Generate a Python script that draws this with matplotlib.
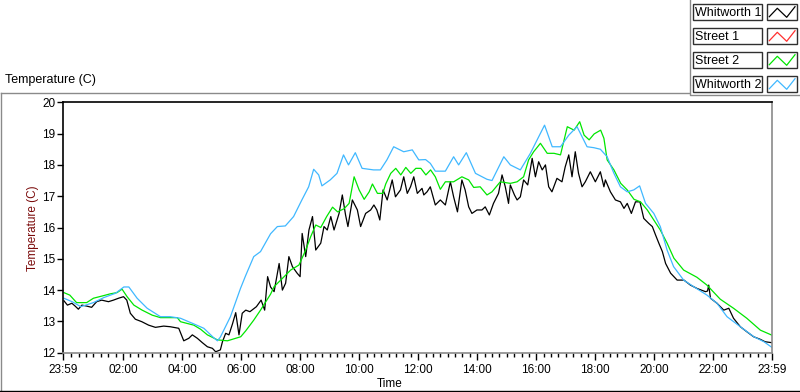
import numpy as np
import matplotlib
matplotlib.use("Agg")
import matplotlib.pyplot as plt
from matplotlib.lines import Line2D
from matplotlib.patches import Rectangle

# ---- data (hours since midnight, temperature in C) ----
whitworth1_t = [0.00, 0.12, 0.27, 0.38, 0.49, 0.61, 0.77, 0.94, 1.11, 1.28, 1.51, 1.68, 1.85, 2.02,
                2.13, 2.25, 2.42, 2.64, 2.87, 3.10, 3.38, 3.60, 3.89, 4.06, 4.23, 4.35, 4.52, 4.69,
                4.86, 5.03, 5.14, 5.30, 5.37, 5.48, 5.59, 5.71, 5.82, 5.93, 6.04, 6.16, 6.30, 6.52,
                6.68, 6.80, 6.90, 7.00, 7.12, 7.29, 7.40, 7.51, 7.62, 7.74, 7.90, 8.00, 8.07, 8.19,
                8.30, 8.42, 8.53, 8.70, 8.81, 8.92, 9.04, 9.15, 9.32, 9.43, 9.54, 9.62, 9.77, 9.94,
                10.05, 10.22, 10.39, 10.50, 10.60, 10.70, 10.81, 10.95, 11.12, 11.23, 11.40, 11.51,
                11.63, 11.74, 11.85, 11.97, 12.13, 12.19, 12.30, 12.41, 12.58, 12.75, 12.92, 13.09,
                13.20, 13.33, 13.48, 13.59, 13.71, 13.82, 13.99, 14.16, 14.27, 14.41, 14.55, 14.72,
                14.84, 14.95, 15.06, 15.12, 15.26, 15.35, 15.46, 15.57, 15.71, 15.86, 15.97, 16.08,
                16.20, 16.31, 16.42, 16.53, 16.70, 16.87, 16.98, 17.10, 17.21, 17.32, 17.43, 17.55,
                17.66, 17.83, 18.00, 18.17, 18.29, 18.34, 18.51, 18.68, 18.85, 18.97, 19.08, 19.22,
                19.36, 19.51, 19.64, 19.81, 19.93, 20.04, 20.15, 20.27, 20.38, 20.55, 20.77, 21.00,
                21.22, 21.45, 21.73, 21.80, 21.84, 21.90, 22.12, 22.35, 22.52, 22.68, 22.91, 23.13,
                23.36, 23.58, 23.75, 23.98]
whitworth1_temp = [13.66, 13.52, 13.58, 13.49, 13.39, 13.52, 13.49, 13.45, 13.63, 13.68, 13.63, 13.68,
                   13.74, 13.79, 13.68, 13.26, 13.07, 12.99, 12.88, 12.81, 12.85, 12.83, 12.78, 12.38,
                   12.46, 12.57, 12.46, 12.32, 12.19, 12.14, 12.03, 12.09, 12.35, 12.62, 12.57, 12.92,
                   13.28, 12.57, 13.26, 13.36, 13.31, 13.47, 13.68, 13.36, 14.43, 14.10, 13.95, 14.85,
                   14.00, 14.22, 15.07, 14.75, 14.54, 14.43, 15.81, 15.07, 15.92, 16.35, 15.28, 15.50,
                   16.03, 15.92, 16.35, 15.92, 16.45, 17.04, 16.40, 16.03, 16.88, 16.56, 16.03, 16.45,
                   16.56, 16.72, 16.56, 16.24, 17.20, 16.88, 17.52, 16.98, 17.20, 17.62, 17.09, 17.30,
                   17.62, 17.09, 17.25, 17.04, 17.14, 17.30, 16.72, 16.88, 16.72, 17.46, 16.98, 16.50,
                   17.52, 17.20, 16.66, 16.45, 16.56, 16.56, 16.66, 16.40, 16.77, 17.09, 17.68, 17.30,
                   16.77, 17.36, 17.04, 16.88, 16.98, 17.52, 17.36, 18.21, 17.62, 18.10, 17.84, 18.00,
                   17.30, 17.14, 17.57, 17.46, 17.94, 18.32, 17.62, 18.42, 17.73, 17.30, 17.46, 17.78,
                   17.46, 17.78, 17.30, 17.52, 17.14, 16.88, 16.82, 16.61, 16.77, 16.45, 16.82, 16.82,
                   16.29, 16.13, 16.03, 15.76, 15.50, 15.23, 14.85, 14.54, 14.32, 14.32, 14.16, 14.05,
                   13.95, 13.97, 14.16, 13.74, 13.58, 13.36, 13.42, 13.10, 12.83, 12.67, 12.51, 12.43,
                   12.35, 12.32]

street1_t = []
street1_temp = []

street2_t = [0.00, 0.20, 0.43, 0.77, 1.00, 1.29, 1.57, 1.80, 1.97, 2.14, 2.37, 2.65, 2.99, 3.27, 3.84,
             3.95, 4.40, 4.63, 4.86, 5.20, 5.54, 5.99, 6.16, 6.43, 6.66, 7.00, 7.12, 7.46, 7.68, 7.96,
             8.19, 8.36, 8.53, 8.70, 8.90, 9.10, 9.27, 9.49, 9.66, 9.83, 10.00, 10.17, 10.34, 10.45,
             10.62, 10.80, 10.90, 11.07, 11.24, 11.41, 11.58, 11.75, 11.92, 12.09, 12.26, 12.42,
             12.58, 12.75, 12.92, 13.20, 13.48, 13.71, 13.88, 14.10, 14.33, 14.50, 14.78, 15.12,
             15.35, 15.57, 15.74, 15.91, 16.14, 16.37, 16.60, 16.82, 17.05, 17.28, 17.47, 17.62,
             17.79, 17.96, 18.18, 18.29, 18.40, 18.63, 18.86, 19.08, 19.31, 19.53, 19.76, 19.98,
             20.20, 20.43, 20.66, 20.99, 21.44, 21.78, 22.23, 22.68, 23.13, 23.59, 23.98]
street2_temp = [13.92, 13.84, 13.60, 13.60, 13.74, 13.81, 13.88, 13.92, 14.03, 13.79, 13.52, 13.36,
                13.20, 13.12, 13.12, 12.99, 12.88, 12.75, 12.57, 12.41, 12.38, 12.51, 12.70, 13.04,
                13.36, 13.87, 14.11, 14.43, 14.64, 14.80, 15.28, 15.71, 16.08, 16.00, 16.35, 16.65,
                16.50, 16.60, 16.77, 17.62, 17.20, 16.90, 17.14, 17.39, 17.09, 17.09, 17.39, 17.73,
                17.89, 17.68, 17.92, 17.73, 17.89, 17.89, 17.68, 17.84, 17.62, 17.22, 17.46, 17.46,
                17.62, 17.52, 17.28, 17.30, 17.04, 17.14, 17.46, 17.41, 17.46, 17.62, 18.16, 18.42,
                18.69, 18.37, 18.37, 18.32, 19.22, 19.11, 19.38, 18.95, 18.80, 18.99, 19.11, 18.85,
                18.16, 17.84, 17.41, 17.20, 16.90, 16.82, 16.56, 16.24, 15.92, 15.50, 15.02, 14.64,
                14.41, 14.16, 13.71, 13.42, 13.10, 12.72, 12.56]

whitworth2_t = [0.00, 0.30, 0.57, 1.00, 1.35, 1.75, 2.03, 2.20, 2.48, 2.82, 3.27, 3.60, 3.95, 4.40,
                4.74, 5.05, 5.20, 5.30, 5.64, 5.98, 6.15, 6.43, 6.66, 7.00, 7.23, 7.50, 7.78, 8.06,
                8.29, 8.46, 8.63, 8.74, 9.02, 9.25, 9.47, 9.64, 9.87, 10.10, 10.49, 10.72, 10.94,
                11.17, 11.51, 11.80, 12.02, 12.25, 12.41, 12.58, 12.92, 13.20, 13.37, 13.63, 13.94,
                14.33, 14.50, 14.90, 15.12, 15.46, 15.80, 15.97, 16.28, 16.54, 16.82, 17.10, 17.38,
                17.72, 17.95, 18.17, 18.40, 18.63, 18.85, 19.08, 19.30, 19.50, 19.70, 19.98, 20.20,
                20.43, 20.65, 20.99, 21.33, 21.78, 22.12, 22.46, 22.91, 23.37, 23.71, 23.98]
whitworth2_temp = [13.74, 13.62, 13.47, 13.60, 13.76, 13.90, 14.10, 14.10, 13.74, 13.42, 13.15, 13.15,
                   13.10, 12.92, 12.78, 12.50, 12.38, 12.50, 13.15, 14.05, 14.45, 15.07, 15.23, 15.80,
                   16.03, 16.05, 16.35, 16.88, 17.30, 17.86, 17.68, 17.33, 17.52, 17.73, 18.32, 18.00,
                   18.39, 17.89, 17.84, 17.84, 18.16, 18.58, 18.42, 18.48, 18.16, 18.17, 18.05, 17.80,
                   17.80, 18.26, 18.00, 18.39, 17.73, 17.54, 17.50, 18.26, 18.00, 17.84, 18.37, 18.69,
                   19.27, 18.58, 18.58, 18.95, 19.22, 18.58, 18.55, 18.50, 18.26, 17.73, 17.30, 17.14,
                   17.20, 17.33, 16.77, 16.45, 16.03, 15.28, 14.75, 14.32, 14.11, 13.84, 13.58, 13.15,
                   12.83, 12.51, 12.35, 12.17]

series_names = ["Whitworth 1", "Street 1", "Street 2", "Whitworth 2"]
series_colors = ["#000000", "#ff3030", "#00e600", "#40b8ff"]
series_t = [whitworth1_t, street1_t, street2_t, whitworth2_t]
series_temp = [whitworth1_temp, street1_temp, street2_temp, whitworth2_temp]

x_tick_labels = ["23:59", "02:00", "04:00", "06:00", "08:00", "10:00", "12:00",
                 "14:00", "16:00", "18:00", "20:00", "22:00", "23:59"]
y_ticks = [12, 13, 14, 15, 16, 17, 18, 19, 20]

# ---- figure ----
W, H = 800, 392
plt.rcParams["font.family"] = ["Liberation Sans", "DejaVu Sans"]
fig = plt.figure(figsize=(W / 100, H / 100), dpi=100)


def fx(px):
    return px / W


def fy(py):
    return 1 - py / H


def fig_line(xs, ys, color, lw=1.0):
    fig.add_artist(Line2D([fx(v) for v in xs], [fy(v) for v in ys],
                          transform=fig.transFigure, color=color, lw=lw))


# panel frames
fig_line([0.5, 689, 689], [92.5, 92.5, 92.5], "#8a8a8a")
fig_line([0.5, 0.5], [92.5, 391], "#8a8a8a")
fig_line([0, 800], [391, 391], "#000000")
fig_line([690, 690, 800], [0, 95, 95], "#8a8a8a")

left, right, top, bottom = 63.4, 772, 102.3, 352.7
ax = fig.add_axes([fx(left), fy(bottom), fx(right) - fx(left), (bottom - top) / H])

for name, color, t, temp in zip(series_names, series_colors, series_t, series_temp):
    ax.plot(t, temp, color=color, lw=0.9, label=name)

t0 = -1 / 60
ax.set_xlim(t0, 24 + t0)
ax.set_ylim(12, 20)

major = [t0] + list(range(2, 24, 2)) + [24 + t0]
ax.set_xticks(major)
ax.set_xticklabels(x_tick_labels)
minor = [m / 4 for m in range(1, 96) if m % 8 != 0]
ax.set_xticks(minor, minor=True)
ax.set_yticks(y_ticks)
ax.set_yticklabels([str(v) for v in y_ticks])

ax.tick_params(axis="x", which="major", direction="out", length=5, width=1, labelsize=8.5, pad=3)
ax.tick_params(axis="x", which="minor", direction="out", length=3, width=1)
ax.tick_params(axis="y", direction="out", length=4, width=1, labelsize=8.5, pad=2)

for side in ["top", "left"]:
    ax.spines[side].set_color("black")
    ax.spines[side].set_linewidth(1.2)
for side in ["bottom", "right"]:
    ax.spines[side].set_color("#8a8a8a")
    ax.spines[side].set_linewidth(1.2)

fig.text(fx(33), fy(228), "Temperature (C)", rotation=90, ha="center", va="center",
         fontsize=8.5, color="#7a0a0a")
fig.text(fx(390), fy(384), "Time", ha="center", va="center", fontsize=8.5)
fig.text(fx(5), fy(80), "Temperature (C)", ha="left", va="center", fontsize=9)

# legend (LabVIEW style plot legend)
for i, (name, color) in enumerate(zip(series_names, series_colors)):
    top_y = 4 + 24 * i
    fig.add_artist(Rectangle((fx(692.5), fy(top_y + 16)), (762 - 692.5) / W, 16 / H,
                             transform=fig.transFigure, fill=False, ec="#303030", lw=1))
    fig.add_artist(Rectangle((fx(767), fy(top_y + 16)), 30 / W, 16 / H,
                             transform=fig.transFigure, fill=False, ec="#303030", lw=1))
    fig.text(fx(695), fy(top_y + 8.5), name, ha="left", va="center", fontsize=9)
    fig_line([769.3, 777.3, 786.7, 795], [top_y + 12.7, top_y + 4.3, top_y + 13.3, top_y + 2.7],
             color, lw=0.9)

fig.savefig("out.png", dpi=100)
